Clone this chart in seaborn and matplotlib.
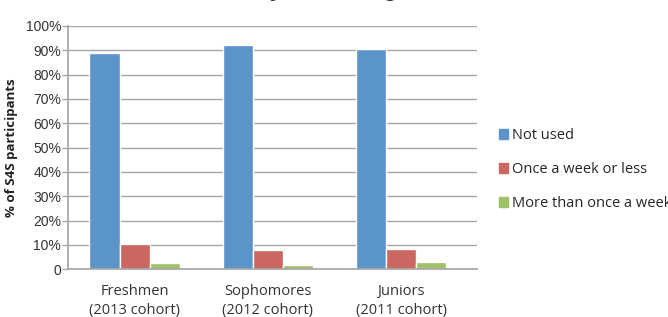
import pandas as pd
import numpy as np
import seaborn as sns
import matplotlib.pyplot as plt

# data
cohorts = ["Freshmen\n(2013 cohort)", "Sophomores\n(2012 cohort)", "Juniors\n(2011 cohort)"]
usage = ["Not used", "Once a week or less", "More than once a week"]
not_used = [89.0, 92.2, 90.7]
once_week = [10.5, 7.8, 8.3]
more_week = [2.5, 1.7, 3.0]
colors = ["#5A94C9", "#CC6661", "#9DC068"]
yticks = [0, 10, 20, 30, 40, 50, 60, 70, 80, 90, 100]
ytick_labels = ["0"] + ["%d%%" % t for t in yticks[1:]]

df = pd.DataFrame({
    "cohort": cohorts * 3,
    "usage": [usage[0]] * 3 + [usage[1]] * 3 + [usage[2]] * 3,
    "pct": not_used + once_week + more_week,
})

sns.set_theme(style="white")
plt.rcParams['font.family'] = ['Liberation Sans Narrow', 'Liberation Sans', 'DejaVu Sans']

fig = plt.figure(figsize=(6.68, 3.17), dpi=100)
ax = fig.add_axes([0.102, 0.151, 0.612, 0.767])

sns.barplot(data=df, x="cohort", y="pct", hue="usage", palette=colors,
            width=0.68, gap=0, saturation=1, ax=ax, legend=False)

ax.set_ylim(0, 100)
ax.set_xlim(-0.5, 2.57)
ax.set_yticks(yticks)
ax.set_yticklabels(ytick_labels, fontsize=10)
ax.yaxis.grid(True, color="#A6A6A6", linewidth=1)
ax.set_axisbelow(True)
ax.tick_params(axis="y", left=True, length=4, width=1, color="#A6A6A6", pad=1)
ax.tick_params(axis="x", bottom=False, pad=5)
for lab in ax.get_xticklabels():
    lab.set_fontfamily(['Open Sans', 'DejaVu Sans'])
    lab.set_fontsize(10.5)
    lab.set_linespacing(1.35)
    lab.set_color("#333333")
for lab in ax.get_yticklabels():
    lab.set_color("#333333")
sns.despine(ax=ax, top=True, right=True)
ax.spines["left"].set_color("#A6A6A6")
ax.spines["bottom"].set_color("#A6A6A6")
ax.set_xlabel("")
ax.set_ylabel("% of S4S participants", fontsize=9.5, fontweight="bold",
              family=['Open Sans', 'DejaVu Sans'], color="#222222")
ax.yaxis.set_label_coords(-0.122, 0.5)

# legend
handles = [plt.Rectangle((0, 0), 1, 1, color=c) for c in colors]
fig.legend(handles, usage, loc="center left", bbox_to_anchor=(0.728, 0.465),
           frameon=False, handlelength=0.6, handleheight=0.6, handletextpad=0.25,
           labelspacing=1.3, prop={'family': ['Open Sans', 'DejaVu Sans'], 'size': 10.5})

# title is mostly cut off at the top edge in the original
fig.text(0.47, 1.012, "Study Hall Usage", ha="center", va="baseline",
         fontsize=17, fontweight="bold", color="#333333")

fig.savefig("out.png", dpi=100)
